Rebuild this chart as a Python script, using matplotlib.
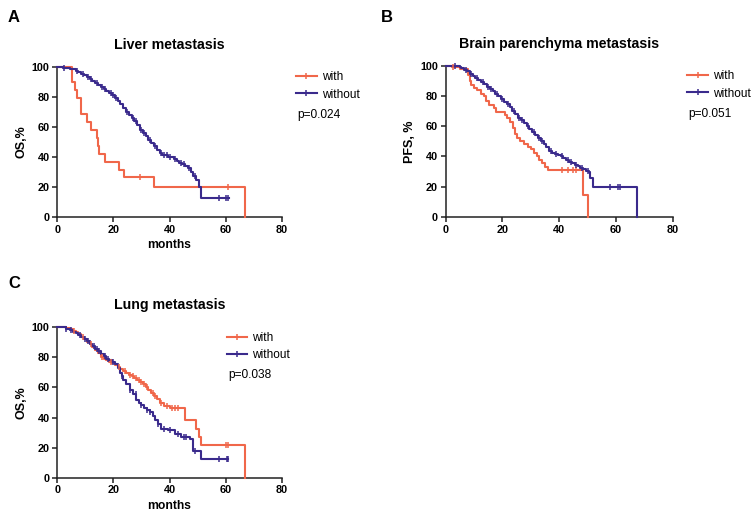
import numpy as np
import matplotlib
matplotlib.use("Agg")
import matplotlib.pyplot as plt
from matplotlib.lines import Line2D

plt.rcParams['font.family'] = ['Liberation Sans', 'DejaVu Sans']

ORANGE = '#F0674A'
PURPLE = '#3A2A8C'

# ---------------- Panel A : Liver metastasis (OS) ----------------
A_with_t = [0, 5.3, 6.3, 7.1, 8.4, 10.7, 11.9, 14.0, 14.4, 14.8, 17.0, 21.9, 23.7, 34.5, 67.0]
A_with_s = [100, 89.5, 84.2, 78.9, 68.4, 63.2, 57.9, 52.6, 47.4, 42.1, 36.8, 31.6, 26.3, 19.7, 0]
A_with_c = [29.4, 61.0]

A_wo_t = [0, 2.0, 4.5, 5.5, 6.5, 7.5, 8.5, 9.5, 10.5, 11.5, 12.5, 13.5, 14.5, 15.5, 16.5, 17.5,
          18.5, 19.5, 20.5, 21.5, 22.5, 23.5, 24.5, 25.5, 26.5, 27.5, 28.5, 29.5, 30.5, 31.5, 32.5,
          33.5, 34.5, 35.5, 36.5, 37.5, 38.5, 39.5, 40.5, 41.5, 42.5, 43.5, 44.5, 45.5, 46.5, 47.5,
          48.5, 49.5, 50.5, 51.3, 61.2]
A_wo_s = [100, 99.4, 98.8, 98.2, 97.4, 96.5, 95.4, 94.3, 93.2, 92.0, 90.7, 89.4, 88.0, 86.6, 85.3, 84.0,
          82.6, 81.2, 79.5, 77.5, 75.0, 72.3, 69.6, 67.8, 66.0, 63.8, 61.0, 58.0, 55.8, 53.6, 51.4,
          49.2, 47.0, 44.6, 42.4, 41.4, 41.0, 40.2, 39.6, 38.6, 37.4, 36.0, 35.0, 34.2, 32.6, 30.0,
          27.6, 24.7, 20.2, 12.9, 12.9]
A_wo_c = [2.5, 7.0, 9.0, 11.0, 12.0, 14.0, 16.0, 17.0, 19.0, 20.0, 21.0, 25.0, 27.0, 28.0, 30.0,
          31.0, 33.0, 35.0, 37.0, 38.0, 39.0, 40.0, 42.0, 44.0, 45.0, 47.0, 49.0, 57.5, 60.3, 61.0]

# ---------------- Panel B : Brain parenchyma metastasis (PFS) ----------------
B_with_t = [0, 2.1, 5.0, 7.9, 8.5, 9.0, 10.0, 11.0, 12.5, 13.5, 14.3, 15.2, 17.0, 17.8, 21.0, 21.6,
            22.6, 23.7, 24.3, 25.0, 26.3, 27.5, 29.0, 30.2, 31.0, 32.0, 33.0, 34.0, 35.0, 36.0, 48.5, 50.0]
B_with_s = [100, 99, 97.5, 94, 90, 87.5, 85.5, 84, 81.5, 80, 76.5, 74, 72, 69.5, 67.5, 65.5,
            63, 59, 55, 52, 50, 48, 46.5, 45, 42.5, 40.5, 38, 35.5, 33, 31, 14.5, 0]
B_with_c = [2.5, 40.9, 43.2, 45.0, 46.0]

B_wo_t = [0, 4.9, 5.5, 6.5, 7.5, 8.5, 9.5, 10.5, 11.5, 12.5, 13.5, 14.5, 15.5, 16.5, 17.5, 18.5,
          19.5, 20.5, 21.5, 22.5, 23.5, 24.5, 25.5, 26.5, 27.5, 28.5, 29.5, 30.5, 31.5, 32.5, 33.5,
          34.5, 35.5, 36.5, 37.5, 38.5, 39.5, 40.5, 41.5, 42.5, 43.5, 44.5, 45.5, 46.5, 47.5, 48.5,
          49.5, 50.5, 51.0, 51.8, 67.3]
B_wo_s = [100, 99, 98.2, 97.3, 96.2, 94.8, 93.3, 92.0, 90.6, 89.2, 87.7, 86.2, 84.6, 83.1, 81.5, 79.8,
          78.0, 76.2, 74.4, 72.4, 70.3, 68.0, 65.6, 63.8, 61.8, 59.9, 58.0, 56.1, 54.0, 52.0, 50.3,
          48.5, 46.0, 43.5, 42.5, 41.7, 41.0, 40.2, 39.0, 37.7, 36.6, 35.5, 34.4, 33.5, 32.4, 31.5,
          30.5, 29.5, 25.6, 20.0, 0]
B_wo_c = [3.2, 7.0, 9.0, 11.0, 13.0, 15.0, 16.0, 18.0, 20.0, 22.0, 24.0, 26.0, 27.0, 29.0, 31.0,
          33.0, 34.0, 37.0, 39.0, 41.0, 43.0, 44.0, 46.0, 48.0, 50.0, 57.9, 60.8, 61.4]

# ---------------- Panel C : Lung metastasis (OS) ----------------
C_with_t = [0, 3.0, 4.5, 5.5, 6.5, 7.5, 8.5, 9.5, 10.5, 11.5, 12.5, 13.5, 14.5, 15.5, 16.5, 17.5,
            18.5, 19.5, 20.5, 21.5, 22.5, 23.5, 24.5, 25.5, 26.5, 27.5, 28.5, 29.5, 30.5, 31.5, 32.5,
            33.5, 34.5, 35.5, 36.5, 38.0, 40.0, 45.4, 49.6, 50.5, 51.3, 67.0]
C_with_s = [100, 99.3, 98.6, 97.8, 96.8, 95.5, 93.8, 92.2, 90.5, 88.7, 86.8, 84.8, 82.6, 80.5, 79.2, 78.0,
            77.0, 76.0, 75.0, 73.6, 72.2, 70.8, 69.5, 68.4, 67.3, 66.0, 65.0, 63.8, 62.0, 60.4, 58.6,
            56.5, 54.6, 52.4, 49.5, 48.0, 46.3, 38.4, 32.6, 27.0, 21.7, 0]
C_with_c = [6.0, 9.0, 12.0, 16.0, 19.0, 22.0, 24.0, 26.0, 27.0, 28.0, 29.0, 30.0, 31.0, 32.0, 34.0,
            35.0, 37.0, 39.0, 41.0, 42.0, 43.0, 60.2, 61.0]

C_wo_t = [0, 3.0, 4.5, 5.5, 6.5, 7.5, 8.5, 9.5, 10.5, 11.5, 12.5, 13.5, 14.5, 15.5, 16.5, 17.5,
          18.5, 19.5, 20.5, 21.5, 22.3, 23.0, 23.5, 24.5, 25.8, 27.0, 28.2, 29.0, 30.0, 31.0, 32.0,
          33.0, 34.0, 34.7, 35.8, 37.1, 39.5, 41.8, 44.2, 47.2, 48.4, 51.3, 60.8]
C_wo_s = [100, 99.2, 98.2, 97.2, 96.2, 95.0, 93.6, 92.2, 90.6, 89.0, 87.4, 85.8, 84.0, 82.2, 80.6, 79.0,
          78.0, 77.0, 75.5, 73.0, 69.4, 67.5, 65.0, 62.0, 58.3, 55.8, 51.5, 50.0, 48.1, 46.5, 45.0,
          43.7, 41.0, 38.2, 35.5, 32.6, 31.5, 29.3, 27.3, 25.5, 18.0, 12.2, 12.2]
C_wo_c = [3.0, 5.0, 8.0, 10.0, 11.0, 13.0, 14.0, 15.0, 17.0, 18.0, 20.0, 23.0, 26.0, 28.0, 30.0,
          32.0, 33.0, 36.0, 38.0, 40.0, 43.0, 45.0, 46.0, 49.0, 57.5, 60.5, 61.0]

x_ticks = [0, 20, 40, 60, 80]
y_ticks = [0, 20, 40, 60, 80, 100]
legend_labels = ['with', 'without']

W, H = 753, 512
fig = plt.figure(figsize=(W / 100, H / 100), dpi=100)


def px_axes(l, t, r, b):
    return fig.add_axes([l / W, 1 - b / H, (r - l) / W, (b - t) / H])


def surv_at(t, s, c):
    t = np.asarray(t); s = np.asarray(s)
    idx = np.searchsorted(t, c, side='right') - 1
    return s[idx]


def km(ax, t, s, c, color):
    ax.step(t, s, where='post', color=color, lw=1.5, clip_on=False, zorder=3)
    ax.plot(c, surv_at(t, s, c), ls='none', marker='|', ms=4.0, mew=1.1, color=color,
            clip_on=False, zorder=4)


def style(ax, title, ylabel, xlabel, pval, leg_anchor):
    ax.set_xlim(0, 80)
    ax.set_ylim(0, 100)
    ax.set_xticks(x_ticks)
    ax.set_yticks(y_ticks)
    for sp in ['top', 'right']:
        ax.spines[sp].set_visible(False)
    for sp in ['left', 'bottom']:
        ax.spines[sp].set_linewidth(1.1)
        ax.spines[sp].set_color('#222222')
    ax.tick_params(direction='out', length=3.5, width=1.1, color='#222222', labelsize=7.8, pad=2)
    for lab in ax.get_xticklabels() + ax.get_yticklabels():
        lab.set_fontweight('bold')
    ax.set_title(title, fontsize=10.2, fontweight='bold', pad=13)
    ax.set_ylabel(ylabel, fontsize=9, fontweight='bold', labelpad=3)
    if xlabel:
        ax.set_xlabel(xlabel, fontsize=8.7, fontweight='bold', labelpad=3)
    handles = [Line2D([], [], color=ORANGE, lw=1.5, marker='|', ms=4.0, mew=1.1),
               Line2D([], [], color=PURPLE, lw=1.5, marker='|', ms=4.0, mew=1.1)]
    ax.legend(handles, legend_labels, loc='upper left', bbox_to_anchor=leg_anchor,
              frameon=False, fontsize=8.6, handlelength=1.7, handletextpad=0.45,
              labelspacing=0.45, borderpad=0, borderaxespad=0)
    ax.text(leg_anchor[0] + 0.005, leg_anchor[1] - 0.29, pval, transform=ax.transAxes,
            fontsize=8.6, va='center', ha='left')


axA = px_axes(57.3, 66.7, 281.7, 217)
km(axA, A_with_t, A_with_s, A_with_c, ORANGE)
km(axA, A_wo_t, A_wo_s, A_wo_c, PURPLE)
style(axA, 'Liver metastasis', 'OS,%', 'months', 'p=0.024', (1.065, 0.97))

axB = px_axes(445.7, 65.7, 672.7, 217)
km(axB, B_with_t, B_with_s, B_with_c, ORANGE)
km(axB, B_wo_t, B_wo_s, B_wo_c, PURPLE)
style(axB, 'Brain parenchyma metastasis', 'PFS, %', None, 'p=0.051', (1.065, 0.97))

axC = px_axes(57.3, 327.3, 281.7, 477.7)
km(axC, C_with_t, C_with_s, C_with_c, ORANGE)
km(axC, C_wo_t, C_wo_s, C_wo_c, PURPLE)
style(axC, 'Lung metastasis', 'OS,%', 'months', 'p=0.038', (0.755, 0.97))

fig.text(8 / W, 1 - 17 / H, 'A', fontsize=12, fontweight='bold', va='center', ha='left')
fig.text(381 / W, 1 - 17 / H, 'B', fontsize=12, fontweight='bold', va='center', ha='left')
fig.text(8 / W, 1 - 283 / H, 'C', fontsize=12, fontweight='bold', va='center', ha='left')

fig.savefig('out.png', dpi=100)
